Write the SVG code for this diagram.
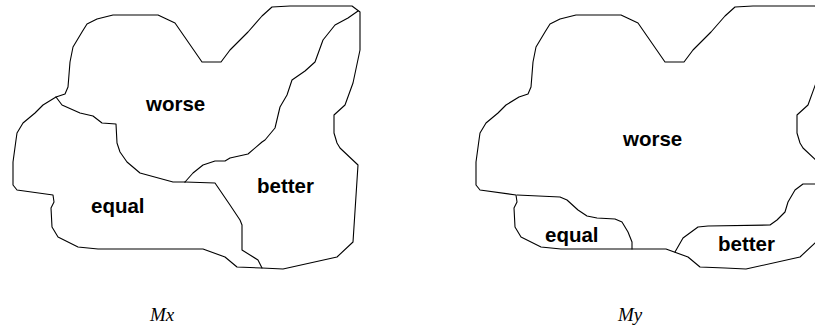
<svg xmlns="http://www.w3.org/2000/svg" width="815" height="327" viewBox="0 0 815 327">
<defs>
<style>
.ln{fill:none;stroke:#000;stroke-width:1.1;stroke-linejoin:round;stroke-linecap:round}
.lb{font-family:"Liberation Sans",Arial,sans-serif;font-weight:bold;font-size:20.5px;fill:#000}
.cap{font-family:"Liberation Serif","Times New Roman",serif;font-style:italic;font-size:19px;fill:#000}
</style>
<path id="outer" d="M13,185 L13,162 L16,140 L17,133 L23,123 L35,113 L43,105 L56,97 L65,94 L68,87 L70,62 L73,47 L82,32 L87,24 L97,19 L113,15 L158,15 L175,23 L202,62 L221,62 L230,50 L248,32 L262,16 L272,7 L290,6 L352,6 L360,12 L360,50 L353,83 L345,105 L334,115 L334,133 L337,143 L340,148 L358,165 L353,242 L337,257 L283,269 L262,268 L237,267 L225,257 L203,249 L98,249 L78,247 L58,237 L52,227 L51,208 L54,202 L53,195 L17,190 Z"/>
</defs>
<g id="Mx">
<use href="#outer" class="ln"/>
<g id="connectors-Mx">
<path class="ln" d="M56,97 L62,105 L80,113 L93,116 L102,123 L116,124 L117,143 L120,152 L127,162 L140,173 L173,182 L185,182"/>
<path class="ln" d="M185,182 L215,183 L230,205 L240,220 L242,225 L242,250 L258,260 L262,268"/>
<path class="ln" d="M185,182 L193,173 L203,165 L215,161 L225,161 L230,158 L248,154 L262,142 L265,140 L275,128 L280,107 L287,95 L292,80 L305,71 L315,62 L323,40 L335,25 L348,18 L358,11"/>
</g>
<g id="Mx-worse"><text class="lb" x="146" y="111">worse</text></g>
<g id="Mx-equal"><text class="lb" x="91" y="213">equal</text></g>
<g id="Mx-better"><text class="lb" x="257" y="193">better</text></g>
<text class="cap" x="150" y="321">Mx</text>
</g>
<g id="My">
<use href="#outer" class="ln" transform="translate(463,0)"/>
<g id="connectors-My">
<path class="ln" d="M517,195 L560,197 L567,200 L578,210 L587,216 L597,218 L615,219 L622,222 L628,232 L632,242 L632,249"/>
<path class="ln" d="M675,252 L683,238 L698,227 L708,226 L770,225 L777,220 L785,212 L788,202 L795,190 L803,184 L815,184 L830,184"/>
</g>
<g id="My-worse"><text class="lb" x="623" y="146">worse</text></g>
<g id="My-equal"><text class="lb" x="545" y="242">equal</text></g>
<g id="My-better"><text class="lb" x="718" y="251">better</text></g>
<text class="cap" x="618" y="321">My</text>
</g>
</svg>
